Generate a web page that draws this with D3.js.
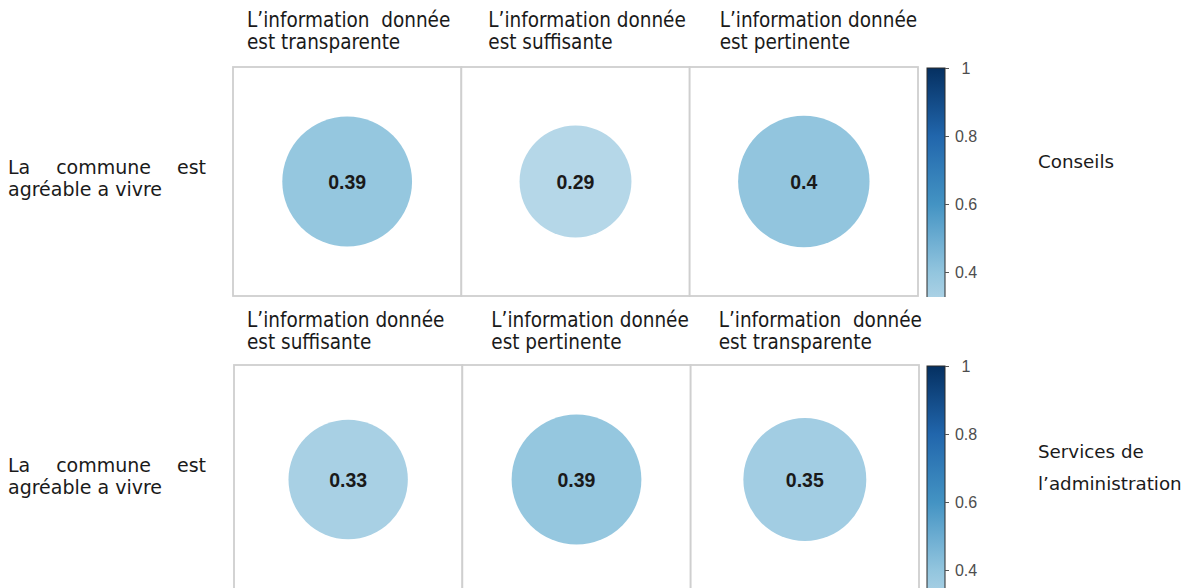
<!DOCTYPE html>
<html lang="fr">
<head>
<meta charset="utf-8">
<title>Corrélations - commune agréable a vivre</title>
<script src="https://cdn.jsdelivr.net/npm/d3@7/dist/d3.min.js"></script>
<style>
body { margin:0; background:#fff; }
svg text { font-family:"DejaVu Sans", Verdana, sans-serif; fill:#1a1a1a; }
.collab { font-family:"DejaVu Sans Condensed","DejaVu Sans",sans-serif; font-size:20.5px; }
.rowlab { font-size:19px; }
.grplab { font-size:18.3px; }
.val { font-family:"Liberation Sans", Arial, sans-serif; font-weight:bold; font-size:19.5px; }
.leg text { font-family:"Liberation Sans", Arial, sans-serif; font-size:16px; fill:#4d4d4d; }
</style>
</head>
<body>
<div id="chart"></div>
<script>
// row label (same for both panels)
var rowLines = ["La commune est", "agréable a vivre"];

// panel 1 : Conseils
var conseilsName = ["Conseils"];
var conseilsCols = [
  ["L’information  donnée", "est transparente"],
  ["L’information donnée", "est suffisante"],
  ["L’information donnée", "est pertinente"]
];
var conseilsVals = [0.39, 0.29, 0.4];

// panel 2 : Services de l'administration
var servicesName = ["Services de", "l’administration"];
var servicesCols = [
  ["L’information donnée", "est suffisante"],
  ["L’information donnée", "est pertinente"],
  ["L’information  donnée", "est transparente"]
];
var servicesVals = [0.33, 0.39, 0.35];

var legendTicks = [1, 0.8, 0.6, 0.4];

var width = 1191, height = 588;
var svg = d3.select("#chart").append("svg")
    .attr("width", width)
    .attr("height", height);

// corrplot-like blue ramp
var color = d3.scaleLinear()
    .domain([0, 0.2, 0.4, 0.6, 0.8, 1])
    .range(["#f7f7f7", "#d1e5f0", "#92c5de", "#4393c3", "#2166ac", "#053061"]);

var panels = [
  {id: "p1", name: conseilsName, cols: conseilsCols, vals: conseilsVals, top: 67, left: 233, right: 918, labTop: 27, labDx: [14, 27, 30]},
  {id: "p2", name: servicesName, cols: servicesCols, vals: servicesVals, top: 365, left: 234, right: 919, labTop: 327, labDx: [13, 29, 28]}
];
var cellH = 229;

// spread words over a fixed width (justified line)
function justify(g, words, x0, y, w, cls) {
  var t = words.map(function(wd) {
    return g.append("text").attr("class", cls).attr("y", y).text(wd);
  });
  var lens = t.map(function(s) { return s.node().getComputedTextLength(); });
  var gap = (w - d3.sum(lens)) / (words.length - 1);
  var x = x0;
  t.forEach(function(s, i) { s.attr("x", x); x += lens[i] + gap; });
}

panels.forEach(function(p) {
  var g = svg.append("g").attr("id", p.id);
  var colKeys = p.cols.map(function(c) { return c.join(" "); });

  var x = d3.scaleBand().domain(colKeys).range([p.left, p.right]);
  var y = d3.scaleBand().domain([rowLines.join(" ")]).range([p.top, p.top + cellH]);
  var r = d3.scaleSqrt().domain([0, 1]).range([0, 0.455 * x.bandwidth()]);

  // cells
  g.selectAll("rect.cell")
    .data(colKeys)
    .enter().append("rect")
      .attr("class", "cell")
      .attr("x", function(d) { return x(d); })
      .attr("y", y.range()[0])
      .attr("width", x.bandwidth())
      .attr("height", y.bandwidth())
      .style("fill", "#fff")
      .style("stroke", "#cfcfcf")
      .style("stroke-width", "1.8px");

  var cy = y(rowLines.join(" ")) + y.bandwidth() / 2;

  // circles
  g.selectAll("circle")
    .data(p.vals)
    .enter().append("circle")
      .attr("cx", function(d, i) { return x(colKeys[i]) + x.bandwidth() / 2; })
      .attr("cy", cy)
      .attr("r", function(d) { return r(d); })
      .style("fill", function(d) { return color(d); });

  g.selectAll("text.val")
    .data(p.vals)
    .enter().append("text")
      .attr("class", "val")
      .attr("x", function(d, i) { return x(colKeys[i]) + x.bandwidth() / 2; })
      .attr("y", cy + 7)
      .attr("text-anchor", "middle")
      .text(function(d) { return d; });

  // column labels (two lines above each cell)
  p.cols.forEach(function(c, i) {
    var lx = x(colKeys[i]) + p.labDx[i];
    c.forEach(function(line, j) {
      g.append("text")
        .attr("class", "collab")
        .attr("xml:space", "preserve")
        .style("white-space", "pre")
        .attr("x", lx)
        .attr("y", p.labTop + j * 22)
        .text(line);
    });
  });

  // row label on the left
  justify(g, rowLines[0].split(" "), 8, cy - 8, 198, "rowlab");
  g.append("text").attr("class", "rowlab").attr("x", 8).attr("y", cy + 14).text(rowLines[1]);

  // group name on the right
  g.selectAll("text.grplab")
    .data(p.name)
    .enter().append("text")
      .attr("class", "grplab")
      .attr("x", 1038)
      .attr("y", function(d, i) { return p.name.length == 1 ? cy - 14 : cy - 22 + i * 32; })
      .text(function(d) { return d; });

  // colour legend
  var barX = 927, barW = 18;
  var ly = d3.scaleLinear().domain([1, -1]).range([p.top + 1, p.top + 1 + 680]);
  var clipId = "clip-" + p.id;
  svg.append("clipPath").attr("id", clipId)
    .append("rect").attr("x", 0).attr("y", 0).attr("width", width).attr("height", p.top + cellH + 1);

  var grad = svg.append("linearGradient")
    .attr("id", "grad-" + p.id)
    .attr("gradientUnits", "userSpaceOnUse")
    .attr("x1", 0).attr("x2", 0)
    .attr("y1", ly(1)).attr("y2", ly(0));
  d3.range(10, -1, -1).forEach(function(k) {
    var v = k / 10;
    grad.append("stop")
      .attr("offset", 1 - v)
      .attr("stop-color", color(v));
  });

  var leg = g.append("g").attr("class", "leg").attr("clip-path", "url(#" + clipId + ")");
  leg.append("rect")
    .attr("x", barX)
    .attr("y", ly(1))
    .attr("width", barW)
    .attr("height", ly(0) - ly(1))
    .style("fill", "url(#grad-" + p.id + ")")
    .style("stroke", "#2b2b2b")
    .style("stroke-width", "1px");

  var axis = d3.axisRight(ly).tickValues(legendTicks).tickSize(4).tickFormat(function(d) { return d; });
  var ag = leg.append("g").attr("transform", "translate(" + (barX + barW) + ",0)").call(axis);
  ag.select(".domain").remove();
  ag.selectAll(".tick line").style("stroke", "#555");
  ag.selectAll(".tick text")
    .attr("x", 21)
    .attr("text-anchor", "middle");
});
</script>
</body>
</html>
